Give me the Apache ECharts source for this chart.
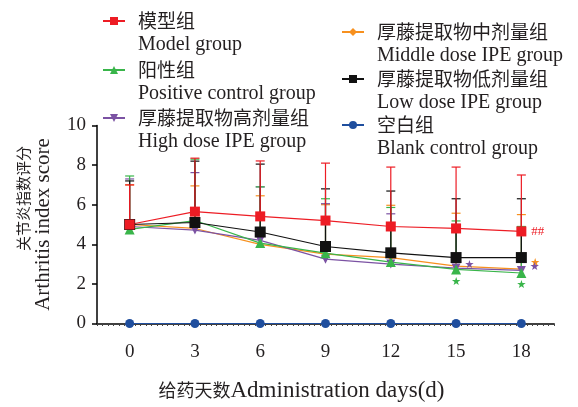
<!DOCTYPE html>
<html>
<head>
<meta charset="utf-8">
<script src="https://cdn.jsdelivr.net/npm/echarts@6/dist/echarts.min.js"></script>
<style>
html,body{margin:0;padding:0;background:#fff;}
#chart{width:578px;height:407px;}
</style>
</head>
<body>
<div id="chart"></div>
<script>
// ---- data ----
var days = ['0', '3', '6', '9', '12', '15', '18'];
var groupCn = ['模型组', '阳性组', '厚藤提取物高剂量组', '厚藤提取物中剂量组', '厚藤提取物低剂量组', '空白组'];
var groupEn = ['Model group', 'Positive control group', 'High dose IPE group', 'Middle dose IPE group', 'Low dose IPE group', 'Blank control group'];

var modelMean    = [5.0, 5.65, 5.41, 5.2, 4.9, 4.8, 4.65];
var modelSd      = [2.0, 2.7, 2.8, 2.9, 3.0, 3.1, 2.85];
var positiveMean = [4.75, 5.2, 4.06, 3.55, 3.1, 2.73, 2.55];
var positiveSd   = [2.7, 3.1, 2.84, 2.75, 2.76, 2.45, 2.35];
var highMean     = [4.9, 4.72, 4.2, 3.25, 3.0, 2.8, 2.68];
var highSd       = [2.4, 2.9, 2.7, 2.8, 2.54, 2.2, 2.2];
var middleMean   = [5.0, 4.8, 4.0, 3.5, 3.33, 2.9, 2.75];
var middleSd     = [2.0, 2.15, 2.45, 2.5, 2.64, 2.67, 2.75];
var lowMean      = [5.0, 5.1, 4.62, 3.89, 3.57, 3.33, 3.33];
var lowSd        = [2.2, 3.1, 3.43, 2.91, 3.12, 2.97, 2.97];
var blankMean    = [0, 0, 0, 0, 0, 0, 0];

var modelMarks    = ['', '', '', '', '', '', '##'];
var positiveMarks = ['', '', '', '', '', '★', '★'];
var highMarks     = ['', '', '', '', '', '★', '★'];
var middleMarks   = ['', '', '', '', '', '', '★'];

var yTicks = [0, 2, 4, 6, 8, 10];

// ---- style ----
var RED = '#ed1c24', GREEN = '#39b54a', PURPLE = '#7b52a3', ORANGE = '#f7901e', BLACK = '#111111', BLUE = '#1f4e9e';
var TXT = '#231f20';
var CN = 'Noto Sans CJK SC';
var EN = 'Liberation Serif';

var chart = echarts.init(document.getElementById('chart'));

function errData(mean, sd) {
  return mean.map(function (m, i) { return [i, m, m + sd[i]]; });
}
function errRender(color) {
  return function (params, api) {
    var x = api.value(0);
    var lo = api.coord([x, api.value(1)]);
    var hi = api.coord([x, api.value(2)]);
    return {
      type: 'group',
      children: [
        { type: 'line', shape: { x1: lo[0], y1: lo[1], x2: hi[0], y2: hi[1] }, style: { stroke: color, lineWidth: 1.2 } },
        { type: 'line', shape: { x1: hi[0] - 4.5, y1: hi[1], x2: hi[0] + 4.5, y2: hi[1] }, style: { stroke: color, lineWidth: 1.2 } }
      ]
    };
  };
}
function errSeries(name, mean, sd, color) {
  return {
    name: name + ' SD', type: 'custom', xAxisIndex: 0, yAxisIndex: 0,
    renderItem: errRender(color), data: errData(mean, sd),
    encode: { x: 0, y: [1, 2] }, silent: true
  };
}
function markData(mean, marks, pos, color, fontSize, offset, dist) {
  return mean.map(function (v, i) {
    if (!marks || !marks[i]) return v;
    return {
      value: v,
      label: {
        show: true, formatter: marks[i], position: pos, distance: dist,
        color: color, fontSize: fontSize, offset: offset,
        fontFamily: marks[i] === '##' ? EN : 'DejaVu Sans'
      }
    };
  });
}
function lineSeries(idx, data, color, symbol, size, rotate) {
  return {
    name: groupEn[idx], type: 'line', xAxisIndex: 0, yAxisIndex: 0,
    data: data, symbol: symbol, symbolSize: size, symbolRotate: rotate || 0,
    lineStyle: { color: color, width: 1.2 },
    itemStyle: { color: color },
    label: { show: false },
    emphasis: { disabled: true }
  };
}

function legendFmt(name) {
  var i = groupEn.indexOf(name);
  return '{z| }\n{c|' + groupCn[i] + '}\n{e|' + groupEn[i] + '}';
}
var legendRich = {
  z: { fontSize: 10, lineHeight: 24 },
  c: { fontFamily: CN, fontSize: 19, lineHeight: 24, color: TXT, padding: [0, 0, 0, 8] },
  e: { fontFamily: EN, fontSize: 20, lineHeight: 24, color: TXT, padding: [0, 0, 0, 8] }
};
var legendPos = [
  { left: 102, top: -8 }, { left: 102, top: 41 }, { left: 102, top: 89 },
  { left: 341, top: 3 }, { left: 341, top: 50 }, { left: 341, top: 96 }
];
var legends = groupEn.map(function (n, i) {
  return {
    data: [n], left: legendPos[i].left, top: legendPos[i].top, padding: 0,
    itemWidth: 22, itemHeight: 10, selectedMode: false,
    formatter: legendFmt, textStyle: { rich: legendRich, color: TXT }
  };
});

var option = {
  animation: false,
  textStyle: { fontFamily: EN },
  legend: legends,
  grid: { left: 97, right: 24, top: 125.5, bottom: 73.5, containLabel: false },
  xAxis: [{
    type: 'category', data: days, boundaryGap: true,
    axisLine: { lineStyle: { color: '#000', width: 1.5 } },
    axisTick: { alignWithLabel: true, length: 6, lineStyle: { color: '#000', width: 1.5 } },
    axisLabel: { fontFamily: EN, fontSize: 19, color: TXT, margin: 19 },
    name: '{c|给药天数}{e|Administration days(d)}',
    nameLocation: 'middle', nameGap: 55,
    nameTextStyle: {
      padding: [0, 48, 0, 0],
      rich: {
        c: { fontFamily: CN, fontSize: 18, color: TXT, lineHeight: 24 },
        e: { fontFamily: EN, fontSize: 23, color: TXT, lineHeight: 24 }
      }
    },
    splitLine: { show: false }
  }, {
    type: 'value', min: 0, max: 84, interval: 1, position: 'bottom',
    axisLine: { show: false }, axisLabel: { show: false }, splitLine: { show: false },
    axisTick: { show: true, length: 2.5, lineStyle: { color: '#444', width: 1 } }
  }],
  yAxis: {
    type: 'value', min: yTicks[0], max: yTicks[yTicks.length - 1], interval: 2,
    axisLine: { show: true, lineStyle: { color: '#000', width: 1.5 } },
    axisTick: { show: true, length: 5, lineStyle: { color: '#000', width: 1.5 } },
    axisLabel: { fontFamily: EN, fontSize: 19, color: TXT, margin: 11 },
    splitLine: { show: false },
    name: '{c|关节炎指数评分}\n{e|Arthritis index score}',
    nameLocation: 'middle', nameRotate: 90, nameGap: 43,
    nameTextStyle: {
      align: 'center',
      rich: {
        c: { fontFamily: CN, fontSize: 15, lineHeight: 17, color: TXT, padding: [0, 0, 0, 52] },
        e: { fontFamily: EN, fontSize: 21, lineHeight: 22, color: TXT, padding: [0, 0, 0, 0] }
      }
    }
  },
  series: [
    errSeries(groupEn[3], middleMean, middleSd, ORANGE),
    errSeries(groupEn[2], highMean, highSd, PURPLE),
    errSeries(groupEn[1], positiveMean, positiveSd, GREEN),
    errSeries(groupEn[4], lowMean, lowSd, BLACK),
    errSeries(groupEn[0], modelMean, modelSd, RED),
    lineSeries(5, blankMean, BLUE, 'circle', 9),
    lineSeries(3, markData(middleMean, middleMarks, 'right', ORANGE, 11, [0, -6], 6), ORANGE, 'diamond', 6),
    lineSeries(2, markData(highMean, highMarks, 'right', PURPLE, 11, [0, -3], 4), PURPLE, 'triangle', 9, 180),
    lineSeries(1, markData(positiveMean, positiveMarks, 'bottom', GREEN, 11, [0, 0], 2), GREEN, 'triangle', 10),
    lineSeries(4, lowMean, BLACK, 'rect', 11),
    lineSeries(0, markData(modelMean, modelMarks, 'right', RED, 13, [0, 0], 5), RED, 'rect', 10)
  ]
};
chart.setOption(option);
</script>
</body>
</html>
